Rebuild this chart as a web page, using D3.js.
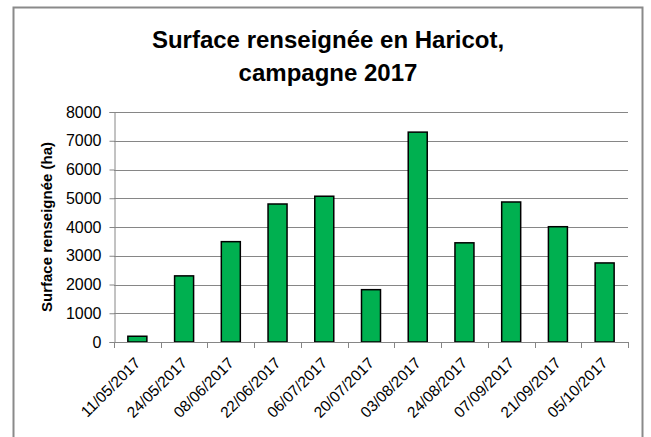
<!DOCTYPE html>
<html>
<head>
<meta charset="utf-8">
<script src="https://cdn.jsdelivr.net/npm/d3@7"></script>
<style>
  body { margin: 0; background: #fff; }
  svg text { font-family: "Liberation Sans", Arial, sans-serif; fill: #000; }
</style>
</head>
<body>
<svg id="chart" width="651" height="437"></svg>
<script>
// data
var dates = ["11/05/2017", "24/05/2017", "08/06/2017", "22/06/2017", "06/07/2017", "20/07/2017",
             "03/08/2017", "24/08/2017", "07/09/2017", "21/09/2017", "05/10/2017"];
var surfaces = [200, 2300, 3490, 4800, 5070, 1820, 7300, 3450, 4870, 4010, 2750];
var yTicks = [0, 1000, 2000, 3000, 4000, 5000, 6000, 7000, 8000];
var titleLines = ["Surface renseignée en Haricot,", "campagne 2017"];
var yTitle = "Surface renseignée (ha)";

var svg = d3.select("#chart");
// plot area (don't use "top", it's window.top)
var plotL = 114, plotR = 628, plotT = 112, plotB = 342;

// outer frame
svg.append("rect")
  .attr("x", 13.5).attr("y", 7.5)
  .attr("width", 629).attr("height", 450)
  .attr("fill", "none")
  .attr("stroke", "#8a8a8a")
  .attr("stroke-width", 2);

// title
var title = svg.append("g");
titleLines.forEach(function(t, i) {
  title.append("text")
    .attr("x", 328)
    .attr("y", i == 0 ? 47.5 : 81)
    .attr("text-anchor", "middle")
    .style("font-weight", "bold")
    .style("font-size", "24px")
    .text(t);
});

var xb = d3.scaleBand().domain(dates).range([plotL, plotR]);

var y = d3.scaleLinear()
  .domain([0, 8000])
  .range([plotB, plotT]);

// gridlines
svg.append("g")
  .selectAll("line")
  .data(yTicks.slice(1))
  .enter().append("line")
    .attr("x1", plotL).attr("x2", plotR)
    .attr("y1", function(d) { return Math.round(y(d)) + 0.5; })
    .attr("y2", function(d) { return Math.round(y(d)) + 0.5; })
    .attr("stroke", "#868686")
    .attr("stroke-width", 1);

// y axis
var yAxis = svg.append("g")
  .attr("transform", "translate(" + (plotL + 0.5) + ",0)")
  .call(d3.axisLeft(y).tickValues(yTicks).tickSize(5).tickPadding(8).tickFormat(d3.format("d")));
yAxis.selectAll("line, path").attr("stroke", "#868686");
yAxis.selectAll("text")
  .style("font-size", "16px")
  .style("font-family", "Liberation Sans, Arial, sans-serif")
  .attr("fill", "#000");

// bars
svg.append("g")
  .selectAll("rect")
  .data(surfaces)
  .enter().append("rect")
    .attr("x", function(d, i) { return xb(dates[i]) + xb.bandwidth() / 2 - 9.5; })
    .attr("width", 19)
    .attr("y", function(d) { return y(d); })
    .attr("height", function(d) { return plotB - y(d); })
    .attr("fill", "#00b050")
    .attr("stroke", "#000")
    .attr("stroke-width", 1.5);

// x axis line and ticks at band edges
var xg = svg.append("g");
xg.append("line")
  .attr("x1", plotL).attr("x2", plotR + 1)
  .attr("y1", plotB + 0.5).attr("y2", plotB + 0.5)
  .attr("stroke", "#868686");
var edges = dates.map(function(d) { return xb(d); }).concat([plotR]);
xg.selectAll("line.tk")
  .data(edges)
  .enter().append("line")
    .attr("class", "tk")
    .attr("x1", function(d) { return Math.round(d) + 0.5; })
    .attr("x2", function(d) { return Math.round(d) + 0.5; })
    .attr("y1", plotB).attr("y2", plotB + 6)
    .attr("stroke", "#868686");

// rotated date labels
xg.selectAll("text")
  .data(dates)
  .enter().append("text")
    .attr("transform", function(d) {
      return "translate(" + (xb(d) + xb.bandwidth() / 2 + 4) + "," + 364 + ") rotate(-45)";
    })
    .attr("text-anchor", "end")
    .style("font-size", "15.5px")
    .text(function(d) { return d; });

// y axis title
svg.append("text")
  .attr("transform", "translate(52," + (plotB + plotT) / 2 + ") rotate(-90)")
  .attr("text-anchor", "middle")
  .style("font-weight", "bold")
  .style("font-size", "15px")
  .text(yTitle);
</script>
</body>
</html>
